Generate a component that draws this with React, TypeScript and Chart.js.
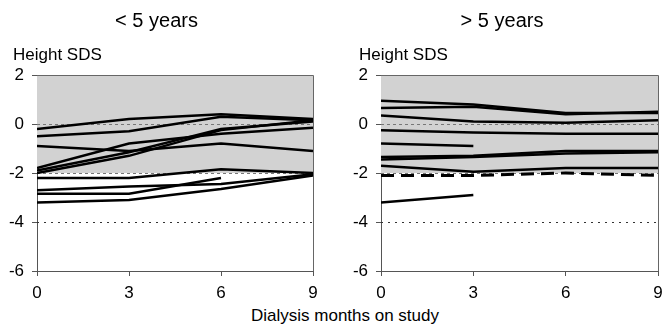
import React, { useEffect, useRef } from "react";
import { Chart, registerables } from "chart.js";

Chart.register(...registerables);

// ---------- data ----------
const months = [0, 3, 6, 9];
const xTicks = [0, 3, 6, 9];
const yTicks = [-6, -4, -2, 0, 2];
const normalBand = [-2, 2];
const dashedRefs = [0, -2];
const dottedRefs = [-4];
const yAxisLabel = "Height SDS";
const xAxisLabel = "Dialysis months on study";

// < 5 years (Height SDS at 0, 3, 6, 9 months; null = no measurement)
const under1 = [-0.2, 0.2, 0.4, 0.2];
const under2 = [-0.5, -0.3, 0.3, 0.15];
const under3 = [-0.9, -1.1, -0.8, -1.1];
const under4 = [-1.8, -0.8, -0.4, -0.15];
const under5 = [-1.9, -1.15, -0.2, 0.1];
const under6 = [-2.0, -1.3, -0.25, 0.15];
const under7 = [-2.2, -2.2, -1.85, -2.0];
const under8 = [-2.7, -2.55, -2.45, -2.05];
const under9 = [-2.85, -2.85, -2.2, null];
const under10 = [-3.2, -3.1, -2.65, -2.1];

// > 5 years
const over1 = [0.95, 0.8, 0.45, 0.45];
const over2 = [0.65, 0.7, 0.4, 0.5];
const over3 = [0.35, 0.1, 0.05, 0.15];
const over4 = [-0.25, -0.35, -0.4, -0.4];
const over5 = [-0.8, -0.9, null, null];
const over6 = [-1.35, -1.3, -1.1, -1.1];
const over7 = [-1.45, -1.35, -1.2, -1.15];
const over8 = [-1.7, -1.95, -1.8, -1.8];
const over9 = [-3.2, -2.9, null, null];
const overDashed = [-2.1, -2.1, -2.0, -2.1];

const underSeries = [under1, under2, under3, under4, under5, under6, under7, under8, under9, under10];
const overSeries = [over1, over2, over3, over4, over5, over6, over7, over8, over9];

const FONT = "'Liberation Sans', Arial, sans-serif";

const toPoints = (vals: (number | null)[]) =>
  months
    .map((m, i) => (vals[i] === null || vals[i] === undefined ? null : { x: m, y: vals[i] as number }))
    .filter((p) => p !== null) as { x: number; y: number }[];

const backgroundPlugin = {
  id: "sdsBackground",
  beforeDatasetsDraw(chart: any) {
    const { ctx, chartArea, scales } = chart;
    const y = scales.y;
    const x = scales.x;
    ctx.save();
    const top = y.getPixelForValue(normalBand[1]);
    const bot = y.getPixelForValue(normalBand[0]);
    ctx.fillStyle = "#d2d2d2";
    ctx.fillRect(chartArea.left, top, chartArea.right - chartArea.left, bot - top);
    ctx.lineWidth = 1;
    ctx.strokeStyle = "#777";
    ctx.setLineDash([3, 3]);
    dashedRefs.forEach((v) => {
      const py = Math.round(y.getPixelForValue(v)) + 0.5;
      ctx.beginPath();
      ctx.moveTo(x.left, py);
      ctx.lineTo(x.right, py);
      ctx.stroke();
    });
    ctx.strokeStyle = "#333";
    ctx.setLineDash([2, 5]);
    dottedRefs.forEach((v) => {
      const py = Math.round(y.getPixelForValue(v)) + 0.5;
      ctx.beginPath();
      ctx.moveTo(x.left, py);
      ctx.lineTo(x.right, py);
      ctx.stroke();
    });
    ctx.setLineDash([]);
    ctx.strokeStyle = "#666";
    ctx.beginPath();
    ctx.moveTo(chartArea.left, Math.round(chartArea.top) + 0.5);
    ctx.lineTo(Math.round(chartArea.right) + 0.5, Math.round(chartArea.top) + 0.5);
    ctx.lineTo(Math.round(chartArea.right) + 0.5, chartArea.bottom);
    ctx.stroke();
    ctx.restore();
  },
};

type PanelProps = {
  title: string;
  series: (number | null)[][];
  dashed?: (number | null)[];
  left: number;
  width: number;
  axisWidth: number;
  padRight: number;
};

function Panel({ title, series, dashed, left, width, axisWidth, padRight }: PanelProps) {
  const ref = useRef<HTMLCanvasElement | null>(null);
  useEffect(() => {
    if (!ref.current) return;
    const datasets: any[] = series.map((s) => ({
      data: toPoints(s),
      borderColor: "#000",
      borderWidth: 2.5,
      pointRadius: 0,
      tension: 0,
      fill: false,
    }));
    if (dashed) {
      datasets.push({
        data: toPoints(dashed),
        borderColor: "#000",
        borderWidth: 3,
        borderDash: [13, 7],
        pointRadius: 0,
        tension: 0,
        fill: false,
      });
    }
    const chart = new Chart(ref.current, {
      type: "line",
      data: { datasets },
      plugins: [backgroundPlugin],
      options: {
        responsive: false,
        animation: false,
        layout: { padding: { left: 0, right: padRight, top: 0, bottom: 0 } },
        plugins: {
          legend: { display: false },
          tooltip: { enabled: false },
          title: {
            display: true,
            text: title,
            color: "#000",
            font: { family: FONT, size: 20, weight: "normal", lineHeight: 1.2 },
            padding: { top: 9, bottom: 42 },
          },
        },
        scales: {
          x: {
            type: "linear",
            min: 0,
            max: 9,
            afterBuildTicks: (s: any) => {
              s.ticks = xTicks.map((v) => ({ value: v }));
            },
            afterFit: (s: any) => {
              s.height = 34;
            },
            ticks: { color: "#000", font: { family: FONT, size: 17 }, padding: 7, maxRotation: 0, autoSkip: false },
            grid: { display: true, drawOnChartArea: false, drawTicks: true, tickLength: 5, color: "#555" },
            border: { display: true, color: "#555", width: 1 },
          },
          y: {
            type: "linear",
            min: -6,
            max: 2,
            afterBuildTicks: (s: any) => {
              s.ticks = yTicks.map((v) => ({ value: v }));
            },
            afterFit: (s: any) => {
              s.width = axisWidth;
            },
            ticks: { color: "#000", font: { family: FONT, size: 17 }, padding: 8, autoSkip: false },
            grid: { display: true, drawOnChartArea: false, drawTicks: true, tickLength: 5, color: "#555" },
            border: { display: true, color: "#555", width: 1 },
          },
        },
      } as any,
    });
    return () => chart.destroy();
  }, []);
  return (
    <>
      <canvas
        ref={ref}
        width={width}
        height={305}
        style={{ position: "absolute", left, top: 0, width, height: 305 }}
      />
      <div
        style={{
          position: "absolute",
          left: left + 13,
          top: 45,
          fontFamily: FONT,
          fontSize: 17,
          lineHeight: "20px",
          color: "#000",
          whiteSpace: "nowrap",
        }}
      >
        {yAxisLabel}
      </div>
    </>
  );
}

export default function App() {
  return (
    <div style={{ position: "fixed", left: 0, top: 0, width: 670, height: 334, background: "#fff", overflow: "hidden" }}>
      <Panel title="< 5 years" series={underSeries} left={0} width={335} axisWidth={37} padRight={22} />
      <Panel title="> 5 years" series={overSeries} dashed={overDashed} left={346} width={324} axisWidth={35} padRight={12} />
      <div
        style={{
          position: "absolute",
          left: 0,
          width: 690,
          top: 306,
          textAlign: "center",
          fontFamily: FONT,
          fontSize: 17,
          lineHeight: "20px",
          color: "#000",
        }}
      >
        {xAxisLabel}
      </div>
    </div>
  );
}
